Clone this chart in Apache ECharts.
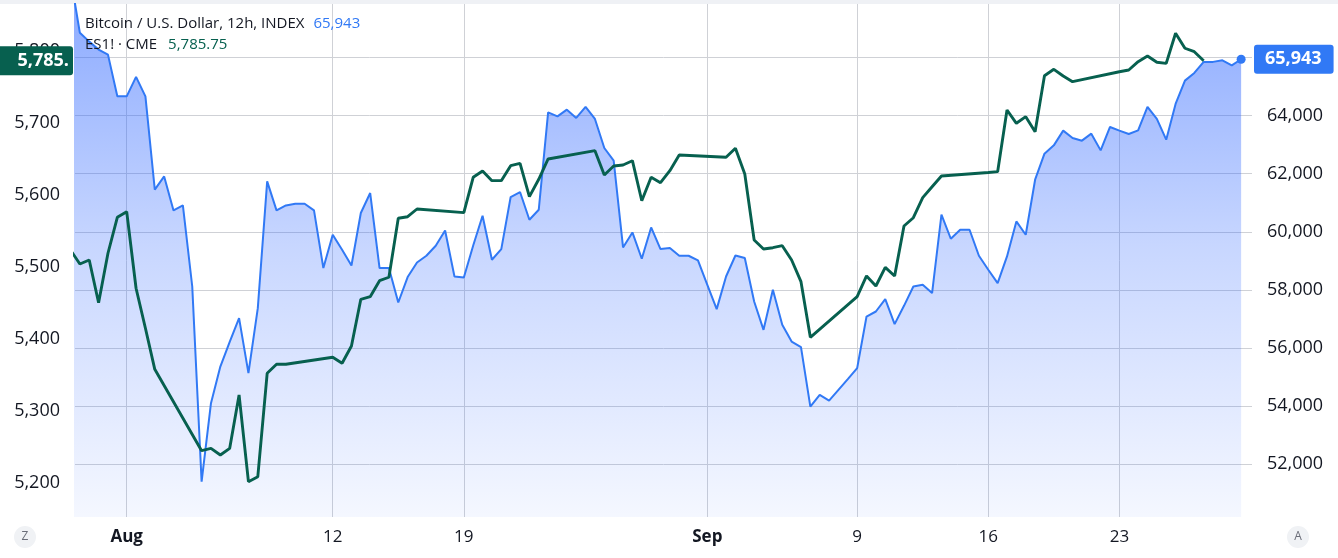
<!DOCTYPE html>
<html><head><meta charset="utf-8">
<script src="https://cdn.jsdelivr.net/npm/echarts@6/dist/echarts.min.js"></script>
<style>html,body{margin:0;padding:0;background:#fff}#c{width:1338px;height:558px}</style>
</head><body><div id="c"></div>
<script>
// ---- data ----
const btcStart = Date.UTC(2024, 6, 29, 0);       // first 12h bar (Jul 29 00:00 UTC)
const barMs = 12 * 3600 * 1000;
const btcValues = [68790, 66852, 66550, 66276, 66103, 64666,
 64666, 65334, 64666, 61449, 61907, 60735, 60907, 58114, 51390, 54094,
 55356, 56207, 57024, 55128, 57369, 61735, 60735, 60907, 60966, 60966,
 60735, 58749, 59897, 59380, 58839, 60645, 61334, 58749, 58749, 57563,
 58439, 58942, 59173, 59518, 60046, 58460, 58425, 59528, 60552, 59035,
 59404, 61197, 61369, 60414, 60759, 64114, 63976, 64207, 63921, 64300,
 63886, 62886, 62449, 59459, 59976, 59070, 60149, 59404, 59439, 59173,
 59173, 59011, 58173, 57335, 58459, 59183, 59094, 57597, 56621, 58000,
 56793, 56218, 56025, 53977, 54380, 54184, 54553, 54922, 55301, 57080,
 57253, 57680, 56818, 57449, 58114, 58173, 57887, 60587, 59759, 60070,
 60070, 59173, 58690, 58232, 59151, 60356, 59897, 61793, 62690, 62976,
 63483, 63231, 63138, 63380, 62804, 63610, 63483, 63369, 63493, 64300,
 63886, 63172, 64404, 65207, 65472, 65852, 65852, 65907, 65734, 65943];
const esOrigin = Date.UTC(2024, 7, 1, 0);          // 12h bar 0 = Aug 1 00:00 UTC
const esBars = [-6,-5,-4,-3,-2,-1,0,1,2,3, 8,9,10,11,12,13,14,15,16,17,
 22,23,24,25,26,27,28,29,30,31, 36,37,38,39,40,41,42,43,44,45,
 50,51,52,53,54,55,56,57,58,59, 64,65,66,67,68,69,70,71,72,73,
 78,79,80,81,82,83,84,85,86,87, 92,93,94,95,96,97,98,99,100,101,
 106,107,108,109,110,111,112,113,114,115];
const esValues = [5523.2, 5503.8, 5509.4, 5450.1, 5518.7, 5568.6, 5576.4, 5470.1, 5414.6, 5357.7,
 5244.8, 5248.1, 5238.8, 5248.1, 5322.1, 5201.8, 5208.7, 5352.2, 5364.7, 5364.7,
 5374.4, 5366.1, 5390.1, 5454.8, 5458.4, 5480.6, 5485.4, 5567.2, 5569.4, 5580.1,
 5575.0, 5624.1, 5632.8, 5619.4, 5619.4, 5640.2, 5643.5, 5597.2, 5621.3, 5649.5,
 5661.0, 5627.3, 5639.8, 5641.2, 5647.1, 5591.6, 5624.1, 5616.6, 5633.2, 5655.0,
 5651.8, 5664.3, 5628.7, 5537.1, 5524.6, 5526.4, 5529.2, 5509.4, 5479.3, 5402.1,
 5458.4, 5487.2, 5473.3, 5499.2, 5487.2, 5556.5, 5568.0, 5595.8, 5611.0, 5625.9,
 5630.7, 5631.9, 5717.5, 5699.0, 5708.2, 5687.4, 5765.0, 5773.9, 5764.6, 5756.7,
 5770.5, 5772.9, 5784.5, 5792.4, 5783.6, 5782.2, 5823.9, 5803.1, 5798.3, 5785.75];
const xTickDates = ['2024-08-01','2024-08-12','2024-08-19','2024-09-01','2024-09-09','2024-09-16','2024-09-23'];
const leftTicks = [5200, 5300, 5400, 5500, 5600, 5700, 5800];
const rightTicks = [52000, 54000, 56000, 58000, 60000, 62000, 64000, 66000];
const btcName = 'Bitcoin / U.S. Dollar, 12h, INDEX';
const esName = 'ES1! · CME';

// ---- build ----
const DAY = 864e5;
const btcData = btcValues.map((v, i) => [btcStart + i * barMs, v]);
const esData = esBars.map((b, i) => [esOrigin + b * barMs, esValues[i]]);
const xTicks = xTickDates.map(s => Date.parse(s + 'T00:00:00Z'));
const btcLast = btcData[btcData.length - 1];
const esLast = esData[esData.length - 1];
const fmt0 = v => Math.round(v).toLocaleString('en-US');
const fmt2 = v => v.toLocaleString('en-US', {minimumFractionDigits: 2, maximumFractionDigits: 2});
const months = ['Jan','Feb','Mar','Apr','May','Jun','Jul','Aug','Sep','Oct','Nov','Dec'];
const FONT = '"Open Sans", "Noto Sans", sans-serif';
const TXT = '#131722';
const BLUE = '#3179f5';
const GREEN = '#07604f';
const GRID = '#cfd1d6';

const chart = echarts.init(document.getElementById('c'), null, {renderer: 'canvas'});
chart.setOption({
  animation: false,
  backgroundColor: '#ffffff',
  textStyle: {fontFamily: FONT},
  title: {
    left: 85, top: 13, padding: 0,
    text: '{n|' + btcName + '}{b|' + fmt0(btcLast[1]) + '}\n{n|' + esName + '}{g|' + fmt2(esLast[1]) + '}',
    textStyle: {
      fontWeight: 'normal',
      rich: {
        n: {fontFamily: FONT, fontSize: 15, fontWeight: 'normal', color: TXT, lineHeight: 21},
        b: {fontFamily: FONT, fontSize: 15, fontWeight: 'normal', color: BLUE, lineHeight: 21, padding: [0, 0, 0, 9]},
        g: {fontFamily: FONT, fontSize: 15, fontWeight: 'normal', color: GREEN, lineHeight: 21, padding: [0, 0, 0, 11]}
      }
    }
  },
  grid: {left: 75, right: 86, top: 4, bottom: 41},
  xAxis: {
    type: 'value',
    min: esOrigin - 2.76 * DAY,
    max: esOrigin + 60.08 * DAY,
    axisLine: {show: false},
    axisTick: {show: false, customValues: xTicks},
    splitLine: {show: true, lineStyle: {color: GRID, width: 1}},
    axisLabel: {
      customValues: xTicks,
      margin: 12,
      fontFamily: FONT, fontSize: 17, color: TXT,
      formatter: function (v) {
        const d = new Date(v);
        return d.getUTCDate() === 1 ? '{m|' + months[d.getUTCMonth()] + '}' : String(d.getUTCDate());
      },
      rich: {m: {fontFamily: FONT, fontSize: 17, fontWeight: 'bold', color: TXT}}
    }
  },
  yAxis: [
    {
      type: 'value', position: 'left',
      min: 5152.8, max: 5864.5,
      axisLine: {show: false},
      axisTick: {show: false, customValues: leftTicks},
      splitLine: {show: false},
      axisLabel: {customValues: leftTicks, margin: 15, fontFamily: FONT, fontSize: 18, color: TXT, formatter: fmt0}
    },
    {
      type: 'value', position: 'right',
      min: 50174, max: 67846,
      axisLine: {show: false},
      axisTick: {show: false, customValues: rightTicks},
      splitLine: {show: true, lineStyle: {color: GRID, width: 1}},
      axisLabel: {customValues: rightTicks, margin: 15, fontFamily: FONT, fontSize: 18, color: TXT, formatter: fmt0}
    }
  ],
  series: [
    {
      name: btcName, type: 'line', yAxisIndex: 1, data: btcData,
      showSymbol: false, z: 2,
      lineStyle: {color: BLUE, width: 2},
      itemStyle: {color: BLUE},
      areaStyle: {
        color: new echarts.graphic.LinearGradient(0, 0, 0, 1, [
          {offset: 0, color: 'rgba(41,98,255,0.8)'},
          {offset: 0.5, color: 'rgba(41,98,255,0.37)'},
          {offset: 1, color: 'rgba(41,98,255,0.07)'}
        ])
      },
      markPoint: {
        symbol: 'circle', symbolSize: 9, silent: true,
        itemStyle: {color: BLUE},
        label: {show: false},
        data: [{coord: btcLast}]
      },
      markLine: {
        silent: true, symbol: ['none', 'none'],
        lineStyle: {color: 'rgba(0,0,0,0)', width: 1, type: 'solid'},
        label: {
          show: true, position: 'end', distance: 2,
          formatter: p => fmt0(p.value),
          backgroundColor: BLUE, color: '#fff', borderRadius: 3,
          fontFamily: FONT, fontSize: 18, fontWeight: 'bold',
          padding: [6, 12, 5, 11]
        },
        data: [{yAxis: btcLast[1]}]
      }
    },
    {
      name: esName, type: 'line', yAxisIndex: 0, data: esData,
      showSymbol: false, z: 3,
      lineStyle: {color: GREEN, width: 2.9},
      itemStyle: {color: GREEN},
      markLine: {
        silent: true, symbol: ['none', 'none'],
        lineStyle: {color: 'rgba(0,0,0,0)', width: 1, type: 'solid'},
        label: {
          show: true, position: 'start', distance: 2,
          formatter: p => fmt2(p.value),
          backgroundColor: GREEN, color: '#fff', borderRadius: [0, 3, 3, 0],
          fontFamily: FONT, fontSize: 18, fontWeight: 'bold',
          width: 60, overflow: 'truncate', ellipsis: '',
          padding: [6, 4, 5, 10]
        },
        data: [{yAxis: esLast[1]}]
      }
    }
  ],
  graphic: [
    {type: 'rect', left: 0, top: 0, shape: {width: 1338, height: 4}, style: {fill: '#eff1f5'}, silent: true},
    {type: 'circle', shape: {cx: 25, cy: 537, r: 11}, style: {fill: '#f0f2f5'}, silent: true},
    {type: 'text', x: 25, y: 537, style: {text: 'Z', fill: '#6a6d78', font: '12px ' + FONT, align: 'center', verticalAlign: 'middle'}, silent: true},
    {type: 'circle', shape: {cx: 1298, cy: 537, r: 11}, style: {fill: '#f0f2f5'}, silent: true},
    {type: 'text', x: 1298, y: 537, style: {text: 'A', fill: '#6a6d78', font: '12px ' + FONT, align: 'center', verticalAlign: 'middle'}, silent: true}
  ]
});
</script></body></html>
